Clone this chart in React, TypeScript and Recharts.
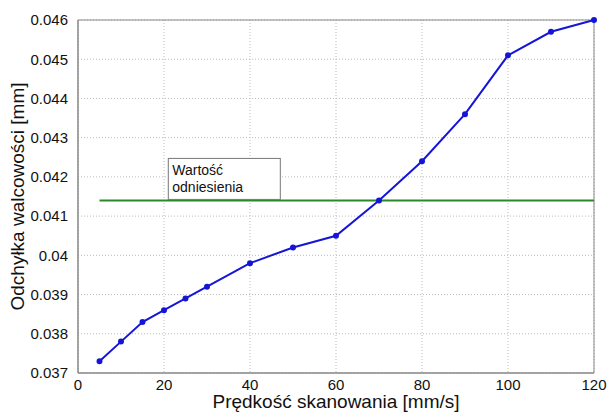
import React from "react";
import {
  LineChart,
  Line,
  XAxis,
  YAxis,
  CartesianGrid,
  ReferenceArea,
  ReferenceDot,
} from "recharts";

const speeds = [5, 10, 15, 20, 25, 30, 40, 50, 60, 70, 80, 90, 100, 110, 120];
const deviation = [
  0.0373, 0.0378, 0.0383, 0.0386, 0.0389, 0.0392, 0.0398, 0.0402, 0.0405,
  0.0414, 0.0424, 0.0436, 0.0451, 0.0457, 0.046,
];
const refSpeeds = [5, 120];
const refValue = 0.0414;
const xTicks = [0, 20, 40, 60, 80, 100, 120];
const yTicks = [0.037, 0.038, 0.039, 0.04, 0.041, 0.042, 0.043, 0.044, 0.045, 0.046];
const refLabel = ["Wartość", "odniesienia"];

const FONT = "'Liberation Sans', Arial, Helvetica, sans-serif";

const chartData = speeds.map((s, i) => ({ speed: s, dev: deviation[i] }));
const refData = refSpeeds.map((s) => ({ speed: s, ref: refValue }));

// annotation box sits above the reference line near its left end
const RefBox = (props: any) => {
  const { cx, cy } = props;
  const w = 112;
  const h = 41;
  const x = cx;
  const y = cy - h - 1;
  return (
    <g>
      <rect x={x} y={y} width={w} height={h} fill="#fff" stroke="#777" strokeWidth={1} />
      <text x={x + 4} y={y + 17} fontSize={14} fontFamily={FONT} fill="#111">
        {refLabel[0]}
      </text>
      <text x={x + 4} y={y + 34} fontSize={14} fontFamily={FONT} fill="#111">
        {refLabel[1]}
      </text>
    </g>
  );
};

const fmtY = (v: number) => {
  const s = v.toFixed(3);
  return s === "0.040" ? "0.04" : s;
};

export default function App() {
  return (
    <div style={{ position: "absolute", left: 0, top: 0, background: "#fff" }}>
      <LineChart
        width={608}
        height={412}
        margin={{ top: 20, right: 14, left: 0, bottom: 0 }}
      >
        <CartesianGrid stroke="#bbb" strokeDasharray="1 2" />
        <XAxis
          dataKey="speed"
          type="number"
          domain={[0, 120]}
          ticks={xTicks}
          allowDuplicatedCategory={false}
          height={39}
          tickLine={false}
          axisLine={{ stroke: "#888" }}
          tick={{ fill: "#111", fontSize: 15, fontFamily: FONT }}
          tickMargin={0}
          label={{
            value: "Prędkość skanowania [mm/s]",
            position: "insideBottom",
            offset: 4,
            style: { fill: "#111", fontSize: 19, fontFamily: FONT },
          }}
        />
        <YAxis
          type="number"
          domain={[0.037, 0.046]}
          ticks={yTicks}
          width={78}
          tickLine={false}
          axisLine={{ stroke: "#888" }}
          tickFormatter={fmtY}
          tick={{ fill: "#111", fontSize: 15, fontFamily: FONT }}
          tickMargin={4}
          label={{
            value: "Odchyłka walcowości [mm]",
            angle: -90,
            position: "insideLeft",
            offset: 17,
            style: { fill: "#111", fontSize: 19, fontFamily: FONT, textAnchor: "middle" },
          }}
        />
        <ReferenceArea
          x1={0}
          x2={120}
          y1={0.037}
          y2={0.046}
          fill="none"
          stroke="#888"
          strokeWidth={1}
        />
        <Line
          data={refData}
          dataKey="ref"
          stroke="#2a8a2a"
          strokeWidth={2}
          dot={false}
          isAnimationActive={false}
        />
        <Line
          data={chartData}
          dataKey="dev"
          stroke="#1515d8"
          strokeWidth={2}
          dot={{ r: 2, fill: "#1515d8", stroke: "#1515d8" }}
          isAnimationActive={false}
        />
        <ReferenceDot x={21} y={refValue} r={0} shape={RefBox} />
      </LineChart>
    </div>
  );
}
